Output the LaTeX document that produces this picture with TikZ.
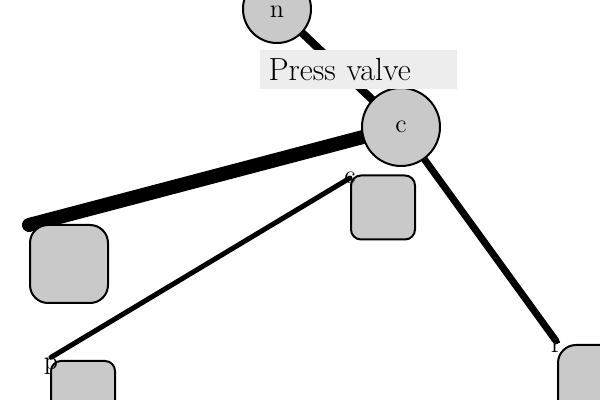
\documentclass[tikz,border=0pt]{standalone}
\usetikzlibrary{backgrounds}
\begin{document}
\begin{tikzpicture}[x=0.5pt,y=-0.5pt,
  circ/.style={circle, draw=black, line width=1pt, fill=black!21, inner sep=0pt, font=\fontsize{13}{15}\selectfont},
  bigsq/.style={draw=black, line width=1pt, fill=black!21, rounded corners=9pt, minimum width=39pt, minimum height=39pt, inner sep=0pt},
  smallsq/.style={draw=black, line width=1pt, fill=black!21, rounded corners=5pt, minimum width=32pt, minimum height=32pt, inner sep=0pt},
  lbl/.style={inner sep=0pt, font=\fontsize{13}{15}\selectfont, text=black},
  edge/.style={draw=black, line cap=round}
]
\useasboundingbox (0,0) rectangle (600,400);
\node[circ, minimum size=34pt, text height=0.85em, text depth=0pt] (n) at (277,9) {n};
\node[circ, minimum size=39pt] (c) at (401,127) {c};
\node[bigsq] (A) at (69,264) {};
\node[smallsq] (B) at (383,207.5) {};
\node[smallsq] (C) at (83,393) {};
\node[bigsq] (D) at (597,384) {};
\node[lbl] (la) at (29,225) {c};
\node[lbl] (lb) at (350,178) {c};
\node[lbl] (lc) at (51,366) {p};
\node[lbl] (ld) at (556,347) {r};
\node[fill=black!7, minimum width=98.5pt, minimum height=19.5pt, text width=90pt, align=left, inner sep=0pt, font=\fontsize{16}{19}\selectfont] (t) at (358.5,69.5) {Press valve};
\begin{scope}[on background layer]
\draw[edge, line width=4pt] (n.center) -- (c.center);
\draw[edge, line width=7pt] (c.center) -- (la.center);
\draw[edge, line width=3.5pt] (c.center) -- (ld.north);
\draw[edge, line width=2.5pt] (lb.center) -- (lc.north);
\end{scope}
\end{tikzpicture}
\end{document}
